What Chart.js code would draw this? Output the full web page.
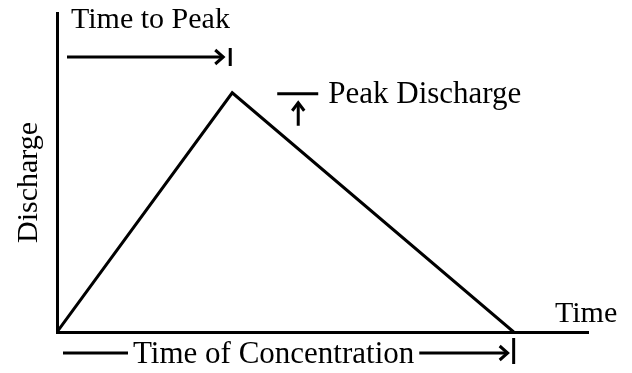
<!DOCTYPE html>
<html>
<head>
<meta charset="utf-8">
<style>
  html, body { margin: 0; padding: 0; background: #fff; }
  #hydro { display: block; }
</style>
<script src="https://cdn.jsdelivr.net/npm/chart.js@4"></script>
</head>
<body>
<canvas id="hydro" width="632" height="373"></canvas>
<script>
// triangular hydrograph: start, peak, end of runoff
const hydroTime = [0, 3.3, 8.6];
const hydroFlow = [0, 7.5, 0];
const axisNames = ['Time', 'Discharge'];
const markerLabels = ['Time to Peak', 'Peak Discharge', 'Time of Concentration'];

const serif = (px) => px + 'px "Liberation Serif", "Times New Roman", serif';

function arrowHead(ctx, x, y, dir) {
  // open head, dir: 'right' or 'up'
  ctx.beginPath();
  if (dir === 'right') {
    ctx.moveTo(x - 8, y - 7);
    ctx.lineTo(x, y);
    ctx.lineTo(x - 8, y + 7);
  } else {
    ctx.moveTo(x - 6, y + 8);
    ctx.lineTo(x, y);
    ctx.lineTo(x + 6, y + 8);
  }
  ctx.stroke();
}

function seg(ctx, x1, y1, x2, y2) {
  ctx.beginPath();
  ctx.moveTo(x1, y1);
  ctx.lineTo(x2, y2);
  ctx.stroke();
}

const hydroNotes = {
  id: 'hydroNotes',
  afterDraw(chart) {
    const { ctx, scales: { x, y } } = chart;
    const x0 = x.getPixelForValue(hydroTime[0]);
    const xPk = x.getPixelForValue(hydroTime[1]);
    const xEnd = x.getPixelForValue(hydroTime[2]);
    const y0 = y.getPixelForValue(0);
    const yPk = y.getPixelForValue(hydroFlow[1]);

    ctx.save();
    ctx.fillStyle = '#000';
    ctx.strokeStyle = '#000';
    ctx.lineWidth = 3;
    ctx.lineCap = 'butt';
    ctx.textBaseline = 'alphabetic';
    ctx.textAlign = 'left';

    // time to peak
    ctx.font = serif(30);
    ctx.fillText(markerLabels[0], x0 + 14, 28);
    seg(ctx, x0 + 10, 57, xPk - 9, 57);
    arrowHead(ctx, xPk - 9, 57, 'right');
    seg(ctx, xPk - 2, 48, xPk - 2, 66);

    // peak discharge
    seg(ctx, xPk + 45, yPk + 1, xPk + 86, yPk + 1);
    seg(ctx, xPk + 66, yPk + 33, xPk + 66, yPk + 10);
    arrowHead(ctx, xPk + 66, yPk + 10, 'up');
    ctx.font = serif(31);
    ctx.fillText(markerLabels[1], xPk + 96, yPk + 10);

    // time of concentration
    const yb = y0 + 21;
    const tx = x0 + 76;
    const tw = ctx.measureText(markerLabels[2]).width;
    seg(ctx, x0 + 6, yb, tx - 5, yb);
    ctx.fillText(markerLabels[2], tx, y0 + 31);
    seg(ctx, tx + tw + 5, yb, xEnd - 6, yb);
    arrowHead(ctx, xEnd - 6, yb, 'right');
    seg(ctx, xEnd, y0 + 6, xEnd, y0 + 32);

    // axis names
    ctx.font = serif(30);
    ctx.fillText(axisNames[0], x.right - 33, y0 - 10);
    ctx.translate(37, (y.top + y.bottom) / 2 + 10);
    ctx.rotate(-Math.PI / 2);
    ctx.textAlign = 'center';
    ctx.fillText(axisNames[1], 0, 0);
    ctx.restore();
  }
};

new Chart(document.getElementById('hydro'), {
  type: 'line',
  data: {
    datasets: [{
      data: hydroTime.map((t, i) => ({ x: t, y: hydroFlow[i] })),
      borderColor: '#000',
      borderWidth: 3,
      pointRadius: 0,
      tension: 0,
      fill: false
    }]
  },
  options: {
    responsive: false,
    devicePixelRatio: 1,
    animation: false,
    layout: { padding: { left: 57, top: 13, right: 44, bottom: 41 } },
    plugins: { legend: { display: false }, tooltip: { enabled: false } },
    scales: {
      x: {
        type: 'linear', min: 0, max: 10,
        grid: { display: false, drawTicks: false },
        border: { display: true, color: '#000', width: 3 },
        ticks: { display: false }
      },
      y: {
        min: 0, max: 10,
        grid: { display: false, drawTicks: false },
        border: { display: true, color: '#000', width: 3 },
        ticks: { display: false }
      }
    }
  },
  plugins: [hydroNotes]
});
</script>
</body>
</html>
